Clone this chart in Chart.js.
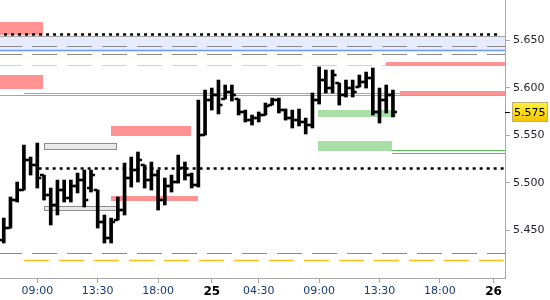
<!DOCTYPE html>
<html>
<head>
<meta charset="utf-8">
<script src="https://cdn.jsdelivr.net/npm/chart.js@4.4.1/dist/chart.umd.min.js"></script>
<style>
    html, body { margin: 0; padding: 0; background: #fff; }
    #wrap { width: 550px; height: 300px; }
</style>
</head>
<body>
<div id="wrap"><canvas id="chart" width="550" height="300"></canvas></div>
<script>
// Данные свечей (30-минутные бары, индекс = номер бара)
const opens  = [5.4401, 5.4527, 5.4821, 5.4926, 5.5241, 5.5188, 5.5083, 5.4874, 5.4769, 5.4926,
                5.4842, 5.4968, 5.5031, 5.4947, 5.4926, 5.4590, 5.4422, 5.4611, 5.4716, 5.5052,
                5.5136, 5.5188, 5.5031, 5.5083, 5.4821, 5.4968, 5.5010, 5.5157, 5.5083, 5.4978,
                5.5503, 5.5870, 5.5923, 5.5881, 5.5954, 5.5881, 5.5745, 5.5660, 5.5681, 5.5713,
                5.5818, 5.5870, 5.5765, 5.5681, 5.5660, 5.5640, 5.5608, 5.5870, 5.6080, 5.5996,
                5.6049, 5.5923, 5.5996, 5.6007, 5.6059, 5.6101, 5.5745, 5.5870, 5.5923];
const highs  = [5.4632, 5.4853, 5.5010, 5.5398, 5.5272, 5.5419, 5.5083, 5.4947, 5.5031, 5.5031,
                5.5031, 5.5104, 5.5136, 5.5136, 5.4926, 5.4664, 5.4632, 5.4853, 5.5209, 5.5272,
                5.5325, 5.5188, 5.5220, 5.5136, 5.5052, 5.5083, 5.5293, 5.5220, 5.5104, 5.5870,
                5.5975, 5.5996, 5.6080, 5.6028, 5.6028, 5.5881, 5.5765, 5.5713, 5.5745, 5.5839,
                5.5891, 5.5891, 5.5776, 5.5765, 5.5776, 5.5681, 5.5944, 5.6217, 5.6185, 5.6185,
                5.6049, 5.6080, 5.6080, 5.6133, 5.6164, 5.6206, 5.5996, 5.6028, 5.5975];
const lows   = [5.4370, 5.4527, 5.4800, 5.4926, 5.5083, 5.4947, 5.4821, 5.4559, 5.4664, 5.4800,
                5.4800, 5.4895, 5.4748, 5.4905, 5.4527, 5.4370, 5.4370, 5.4611, 5.4664, 5.4957,
                5.5010, 5.4947, 5.4926, 5.4716, 5.4769, 5.4905, 5.4999, 5.5031, 5.4947, 5.4957,
                5.5503, 5.5765, 5.5724, 5.5881, 5.5860, 5.5713, 5.5640, 5.5608, 5.5640, 5.5713,
                5.5818, 5.5734, 5.5660, 5.5577, 5.5598, 5.5514, 5.5577, 5.5828, 5.5944, 5.5944,
                5.5818, 5.5902, 5.5902, 5.6007, 5.5996, 5.5713, 5.5629, 5.5734, 5.5692];
const closes = [5.4527, 5.4821, 5.4926, 5.5241, 5.5188, 5.5052, 5.4874, 5.4769, 5.4926, 5.4842,
                5.4968, 5.5031, 5.4821, 5.5083, 5.4590, 5.4422, 5.4590, 5.4716, 5.5052, 5.5136,
                5.5241, 5.5031, 5.5083, 5.4821, 5.4968, 5.5010, 5.5157, 5.5083, 5.4978, 5.5503,
                5.5870, 5.5923, 5.5818, 5.5954, 5.5923, 5.5745, 5.5660, 5.5681, 5.5713, 5.5807,
                5.5870, 5.5765, 5.5681, 5.5660, 5.5640, 5.5608, 5.5870, 5.6080, 5.5996, 5.6133,
                5.5923, 5.5996, 5.5954, 5.6059, 5.6101, 5.5745, 5.5870, 5.5923, 5.575];

const lastPrice = 5.575;

// Подписи осей
const xTickPos    = [5, 14, 23, 31, 38, 47, 56, 65, 73];
const xTickLabels = ["09:00", "13:30", "18:00", "25", "04:30", "09:00", "13:30", "18:00", "26"];
const dayLabels   = ["25", "26"];
const yTicks      = [5.45, 5.50, 5.55, 5.60, 5.65];

// Зоны: [от бара, до бара, низ, верх]
const redZones = [
    [-1, 5.85, 5.6552, 5.6689],
    [-1, 5.85, 5.5986, 5.6133],
    [15.98, 27.9, 5.5493, 5.5598],
    [15.98, 28.95, 5.4811, 5.4863],
    [56.97, 76, 5.6227, 5.6269],
    [59.06, 76, 5.5923, 5.5968]
];
const greyZones = [
    [6.0, 16.88, 5.5346, 5.5419],
    [6.0, 16.88, 5.4706, 5.4758]
];
const greenZones = [
    [46.8, 58.5, 5.5692, 5.5766],
    [46.8, 57.86, 5.5340, 5.5440]
];
const blueBand = [5.6395, 5.6547];

// Уровни: [от бара, до бара, цена]
const dottedLevels = [[-1, 73.96, 5.6558], [5.2, 76, 5.5157]];
const solidLevels  = [[-1, 76, 5.6547], [3.0, 76, 5.5939], [-1, 76, 5.5918]];
const blueLevels   = [[-1, 76, 5.6395]];
const dashLevels   = [[-1, 76, 5.6437], [-1, 76, 5.6353], [-1, 76, 5.4262]];
const lightLevels  = [[-1, 76, 5.6238]];
const greenLevels  = [[57.86, 76, 5.5343], [57.86, 76, 5.5311]];
const orangeLevels = [[3.0, 76, 5.4191]];

const FONT = "'DejaVu Sans', Verdana, sans-serif";

function drawZones(chart, zones, fill, stroke) {
    const { ctx, scales: { x, y } } = chart;
    zones.forEach(z => {
        const x0 = Math.round(x.getPixelForValue(z[0]));
        const x1 = Math.round(x.getPixelForValue(z[1]));
        const y0 = Math.round(y.getPixelForValue(z[3]));
        const y1 = Math.round(y.getPixelForValue(z[2]));
        ctx.fillStyle = fill;
        ctx.fillRect(x0, y0, x1 - x0, y1 - y0);
        if (stroke) {
            ctx.strokeStyle = stroke;
            ctx.lineWidth = 1;
            ctx.strokeRect(x0 + 0.5, y0 + 0.5, x1 - x0 - 1, y1 - y0 - 1);
        }
    });
}

function drawLevels(chart, levels, color, width, dash) {
    const { ctx, scales: { x, y } } = chart;
    ctx.strokeStyle = color;
    ctx.lineWidth = width;
    ctx.setLineDash(dash || []);
    levels.forEach(l => {
        const py = Math.round(y.getPixelForValue(l[2])) + (width % 2 ? 0.5 : 0);
        ctx.beginPath();
        ctx.moveTo(x.getPixelForValue(l[0]), py);
        ctx.lineTo(x.getPixelForValue(l[1]), py);
        ctx.stroke();
    });
    ctx.setLineDash([]);
}

// Плагин: зоны и уровни под барами
const overlayPlugin = {
    id: "overlay",
    beforeDatasetsDraw(chart) {
        const { ctx, chartArea: a, scales: { y } } = chart;
        ctx.save();
        ctx.beginPath();
        ctx.rect(a.left, a.top, a.width, a.height);
        ctx.clip();

        const bTop = Math.round(y.getPixelForValue(blueBand[1]));
        const bBot = Math.round(y.getPixelForValue(blueBand[0]));
        ctx.fillStyle = "#e6ecfd";
        ctx.fillRect(a.left, bTop, a.width, bBot - bTop);

        drawLevels(chart, lightLevels, "#d2d2d2", 1, [25, 10]);
        drawLevels(chart, dashLevels, "#8a8a8a", 1, [25, 10]);
        drawLevels(chart, blueLevels, "#6b98f2", 1.5);
        drawLevels(chart, solidLevels, "#a6a6a6", 1);
        drawLevels(chart, greenLevels, "#55c455", 1);
        drawLevels(chart, orangeLevels, "#ffbf1a", 1.5, [25, 10]);

        drawZones(chart, redZones, "#ff9393");
        drawZones(chart, greenZones, "#a8dfa8");
        drawZones(chart, greyZones, "#e9e9e9", "#8c8c8c");

        drawLevels(chart, dottedLevels, "#000", 2.5, [3, 4]);
        ctx.restore();
    },
    // засечки открытия / закрытия
    afterDatasetsDraw(chart) {
        const { ctx, chartArea: a, scales: { x, y } } = chart;
        ctx.save();
        ctx.beginPath();
        ctx.rect(a.left, a.top, a.width, a.height);
        ctx.clip();
        ctx.strokeStyle = "#000";
        ctx.lineWidth = 2.5;
        opens.forEach((o, i) => {
            const px = x.getPixelForValue(i);
            const po = Math.round(y.getPixelForValue(o));
            const pc = Math.round(y.getPixelForValue(closes[i]));
            ctx.beginPath();
            ctx.moveTo(px - 4, po);
            ctx.lineTo(px, po);
            ctx.moveTo(px, pc);
            ctx.lineTo(px + 4, pc);
            ctx.stroke();
        });
        ctx.restore();
    },
    // метка последней цены
    afterDraw(chart) {
        const { ctx, chartArea: a, scales: { y } } = chart;
        const py = Math.round(y.getPixelForValue(lastPrice));
        ctx.save();
        ctx.strokeStyle = "#000";
        ctx.lineWidth = 1;
        ctx.beginPath();
        ctx.moveTo(a.right, py + 0.5);
        ctx.lineTo(a.right + 5, py + 0.5);
        ctx.stroke();

        const g = ctx.createLinearGradient(0, py - 10, 0, py + 10);
        g.addColorStop(0, "#fff43a");
        g.addColorStop(1, "#f3c300");
        ctx.fillStyle = g;
        ctx.fillRect(a.right + 7, py - 10, 36, 20);
        ctx.strokeStyle = "#bfae7a";
        ctx.strokeRect(a.right + 7.5, py - 9.5, 35, 19);

        ctx.fillStyle = "#000";
        ctx.font = "11px " + FONT;
        ctx.textBaseline = "middle";
        ctx.fillText(lastPrice.toFixed(3), a.right + 9, py + 1);
        ctx.restore();
    }
};

const canvas = document.getElementById("chart");

new Chart(canvas, {
    type: "bar",
    data: {
        datasets: [{
            data: highs.map((h, i) => ({ x: i, y: [lows[i], h] })),
            backgroundColor: "#000",
            borderWidth: 0,
            barThickness: 3
        }]
    },
    options: {
        responsive: false,
        animation: false,
        devicePixelRatio: 1,
        layout: { padding: 0 },
        plugins: { legend: { display: false }, tooltip: { enabled: false } },
        scales: {
            x: {
                type: "linear",
                min: -0.56,
                max: 74.7,
                offset: false,
                grid: { offset: false, drawOnChartArea: false, tickLength: 5, color: "#a8a8a8" },
                border: { color: "#a8a8a8" },
                afterBuildTicks: s => { s.ticks = xTickPos.map(v => ({ value: v })); },
                afterFit: s => { s.height = 22; s.paddingLeft = 0; s.paddingRight = 0; },
                ticks: {
                    autoSkip: false,
                    maxRotation: 0,
                    padding: 2,
                    callback: v => xTickLabels[xTickPos.indexOf(v)],
                    color: c => dayLabels.includes(xTickLabels[c.index]) ? "#000" : "#183a70",
                    font: c => ({
                        family: FONT,
                        size: dayLabels.includes(xTickLabels[c.index]) ? 12 : 11,
                        weight: dayLabels.includes(xTickLabels[c.index]) ? "bold" : "normal"
                    })
                }
            },
            y: {
                type: "linear",
                position: "right",
                min: 5.4003,
                max: 5.692,
                beginAtZero: false,
                grid: { drawOnChartArea: false, tickLength: 5, color: "#a8a8a8" },
                border: { color: "#a8a8a8" },
                afterBuildTicks: s => { s.ticks = yTicks.map(v => ({ value: v })); },
                afterFit: s => { s.width = 45; s.paddingTop = 0; s.paddingBottom = 0; },
                ticks: {
                    padding: 3,
                    color: "#1e1e32",
                    font: { family: FONT, size: 11 },
                    callback: v => v.toFixed(3)
                }
            }
        }
    },
    plugins: [overlayPlugin]
});
console.log("chart ready");
</script>
</body>
</html>
